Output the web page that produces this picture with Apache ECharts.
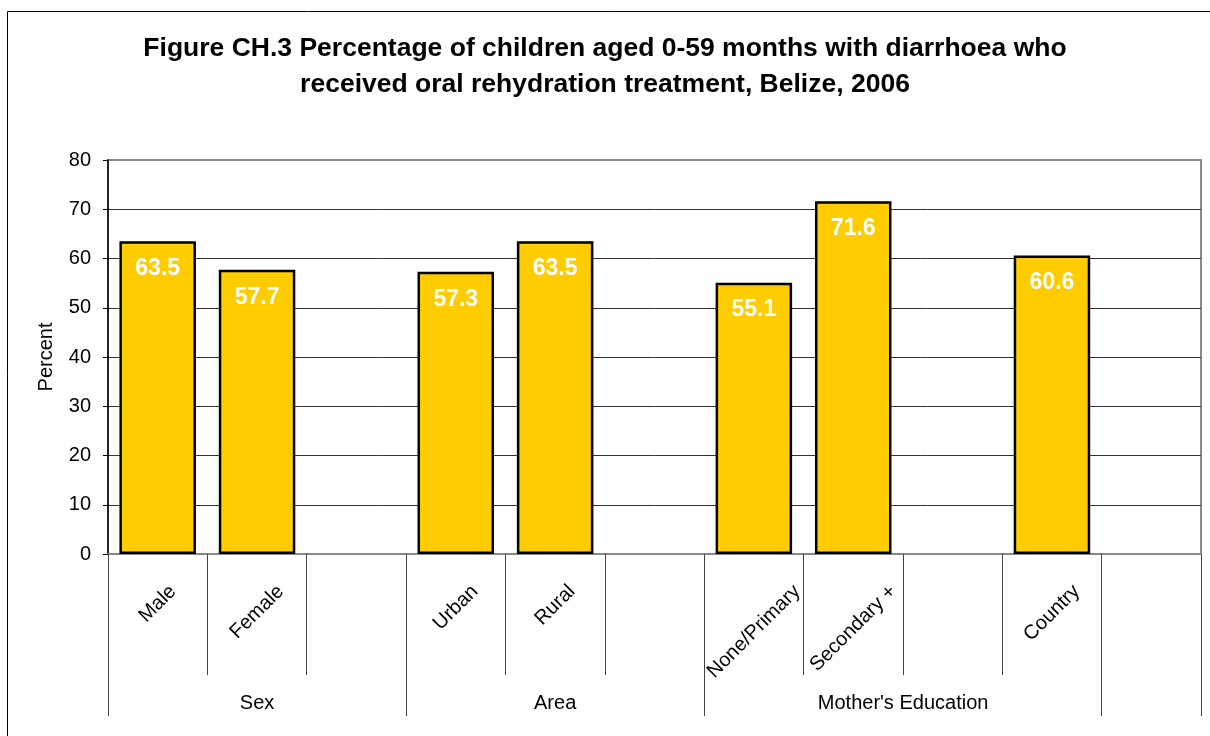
<!DOCTYPE html>
<html>
<head>
<meta charset="utf-8">
<script src="https://cdn.jsdelivr.net/npm/echarts@6/dist/echarts.min.js"></script>
<style>
  html, body { margin: 0; padding: 0; background: #fff; }
  #chart { width: 1210px; height: 736px; }
</style>
</head>
<body>
<div id="chart"></div>
<script>
// Categories along the x axis (blank slots separate the groups)
const categories = ['Male', 'Female', '', 'Urban', 'Rural', '', 'None/Primary', 'Secondary +', '', 'Country', ''];
// Percent of children who received oral rehydration treatment
const values = [63.5, 57.7, null, 57.3, 63.5, null, 55.1, 71.6, null, 60.6, null];
// Group captions and the slot each one sits under
const groupNames = ['Sex', 'Area', "Mother's Education"];
const groupSlots = [1, 4, 8];
// Slots where a group begins (its left boundary gets a long divider)
const groupStarts = [0, 3, 6, 10];
const yTicks = [0, 10, 20, 30, 40, 50, 60, 70, 80];

const FONT = '"Liberation Sans", Arial, Helvetica, sans-serif';
const measureCtx = document.createElement('canvas').getContext('2d');
function textWidth(txt, size) {
  measureCtx.font = size + 'px ' + FONT;
  return measureCtx.measureText(txt).width;
}

// The four-slot group caption is centred on the boundary left of its slot
const groupAxisData = categories.map((c, i) => {
  const g = groupSlots.indexOf(i);
  if (g < 0) return { value: c, textStyle: {} };
  const even = i === 8;
  return { value: c, textStyle: even ? { padding: [0, 99, 0, 0] } : {} };
});

const chart = echarts.init(document.getElementById('chart'), null, { renderer: 'canvas' });

chart.setOption({
  backgroundColor: '#fff',
  animation: false,
  title: {
    text: 'Figure CH.3 Percentage of children aged 0-59 months with diarrhoea who\nreceived oral rehydration treatment, Belize, 2006',
    left: 'center',
    top: 26,
    textStyle: { fontFamily: FONT, fontSize: 26.5, fontWeight: 'bold', color: '#000', lineHeight: 36 }
  },
  graphic: [{
    type: 'rect',
    shape: { x: 7.5, y: 11.5, width: 1220, height: 760 },
    style: { fill: 'none', stroke: '#000', lineWidth: 1 },
    silent: true
  }],
  grid: {
    left: 108, right: 9, top: 160, bottom: 182,
    show: true, borderColor: '#888', borderWidth: 2, backgroundColor: 'transparent'
  },
  xAxis: [{
    type: 'category',
    data: categories,
    position: 'bottom',
    axisLine: { show: true, lineStyle: { color: '#888', width: 2 } },
    axisTick: { show: true, interval: 0, length: 121, lineStyle: { color: '#444', width: 1 } },
    axisLabel: { show: false },
    splitLine: { show: false }
  }, {
    type: 'category',
    data: groupAxisData,
    position: 'bottom',
    axisLine: { show: false },
    axisTick: {
      show: true, length: 162,
      interval: (idx) => groupStarts.indexOf(idx) >= 0,
      lineStyle: { color: '#444', width: 1 }
    },
    axisLabel: {
      show: true, interval: 0, margin: 139,
      formatter: (v, idx) => {
        const g = groupSlots.indexOf(idx);
        return g >= 0 ? groupNames[g] : '';
      },
      fontFamily: FONT, fontSize: 20, color: '#000'
    },
    splitLine: { show: false }
  }],
  yAxis: {
    type: 'value',
    min: 0, max: 80, interval: 10,
    name: 'Percent',
    nameLocation: 'middle',
    nameGap: 52,
    nameRotate: 90,
    nameTextStyle: { fontFamily: FONT, fontSize: 20, color: '#000' },
    axisLine: { show: true, lineStyle: { color: '#000', width: 1.5 } },
    axisTick: { show: true, length: 5, lineStyle: { color: '#000' } },
    axisLabel: {
      margin: 17, fontFamily: FONT, fontSize: 20, color: '#000',
      formatter: (v) => yTicks.indexOf(v) >= 0 ? String(v) : ''
    },
    splitLine: { show: true, showMinLine: false, showMaxLine: false, lineStyle: { color: '#333', width: 1 } }
  },
  series: [{
    type: 'bar',
    data: values,
    xAxisIndex: 0,
    barCategoryGap: '23%',
    itemStyle: { color: '#FFCC00', borderColor: '#000', borderWidth: 2.5 },
    label: {
      show: true, position: 'insideTop', distance: 16,
      formatter: (p) => p.value.toFixed(1),
      fontFamily: FONT, fontSize: 23, fontWeight: 'bold', color: '#fff'
    }
  }, {
    // rotated category names, centred under each slot
    type: 'custom',
    xAxisIndex: 0,
    clip: false,
    silent: true,
    data: categories.map((c, i) => [i, 0]).filter((d) => categories[d[0]] !== ''),
    renderItem: (params, api) => {
      const i = api.value(0);
      const p = api.coord([i, 0]);
      const txt = categories[i];
      const w = textWidth(txt, 20);
      const half = (w + 18) * Math.SQRT1_2 / 2;
      return {
        type: 'text',
        x: p[0], y: p[1] + 28 + half,
        rotation: Math.PI / 4,
        style: { text: txt, font: '20px ' + FONT, fill: '#000', align: 'center', verticalAlign: 'middle' }
      };
    }
  }]
});
</script>
</body>
</html>
